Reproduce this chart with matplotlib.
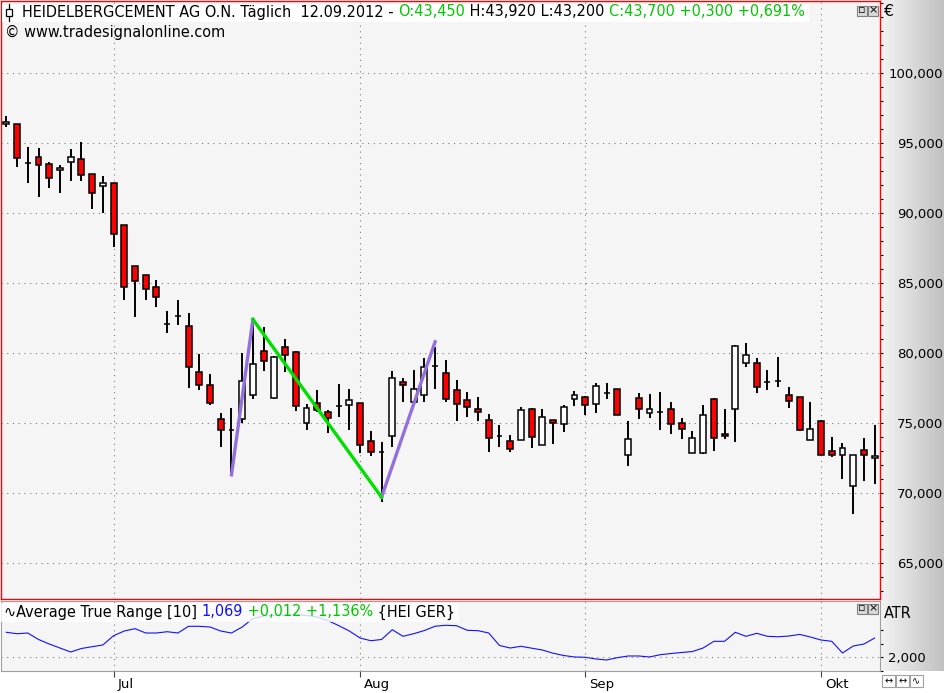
import numpy as np
import matplotlib
matplotlib.use("Agg")
import matplotlib.pyplot as plt
import matplotlib.transforms as mtransforms
from matplotlib.patches import Rectangle
from matplotlib.ticker import MultipleLocator, FuncFormatter
from matplotlib.colors import LinearSegmentedColormap

# daily candles (price axis units)
opens = [96.34, 96.34, 93.55, 93.98, 93.48, 93.05, 93.62, 93.84, 92.76, 91.91,
         92.12, 89.12, 86.19, 85.55, 84.69, 82.09, 82.66, 81.91, 78.62, 77.69,
         75.26, 74.48, 75.26, 76.98, 80.16, 76.76, 80.41, 80.05, 74.98, 76.41,
         75.76, 76.21, 76.26, 76.41, 73.69, 72.95, 74.05, 77.91, 76.48, 76.98,
         79.09, 78.55, 77.34, 76.62, 75.98, 75.19, 74.05, 73.69, 73.76, 75.98,
         73.41, 75.19, 74.91, 76.69, 76.84, 76.34, 77.12, 77.41, 72.69, 76.76,
         75.69, 75.76, 75.98, 74.98, 72.84, 72.84, 76.69, 74.19, 75.98, 79.26,
         79.26, 77.95, 77.98, 76.98, 76.84, 73.76, 75.12, 72.98, 72.69, 70.48,
         73.05, 72.48]
highs = [96.93, 96.34, 94.69, 94.62, 93.62, 93.41, 94.55, 95.05, 92.76, 92.62,
         92.12, 89.12, 86.19, 85.55, 85.19, 83.00, 83.76, 82.84, 79.91, 78.48,
         75.69, 76.05, 79.98, 82.36, 81.84, 79.80, 81.00, 80.12, 76.36, 77.36,
         75.90, 77.79, 77.43, 76.41, 74.43, 73.62, 78.71, 78.19, 78.79, 79.62,
         80.45, 79.48, 78.07, 77.21, 76.84, 75.64, 74.84, 74.12, 76.16, 76.05,
         75.98, 75.20, 76.29, 77.26, 76.90, 77.84, 77.84, 77.41, 75.12, 77.12,
         77.05, 77.19, 76.48, 75.34, 74.41, 76.26, 76.76, 75.98, 80.55, 80.69,
         79.62, 78.76, 79.69, 77.55, 76.84, 76.48, 75.19, 73.98, 73.55, 72.69,
         73.91, 74.84]
lows = [96.12, 93.31, 92.12, 91.16, 91.81, 91.45, 92.31, 92.31, 90.31, 90.02,
        87.55, 83.81, 82.59, 83.81, 83.31, 81.45, 82.02, 77.52, 77.38, 76.26,
        73.31, 71.41, 74.98, 76.74, 78.74, 76.70, 78.66, 75.88, 74.52, 75.80,
        74.31, 75.45, 74.52, 72.88, 72.66, 69.38, 73.31, 76.52, 76.48, 76.48,
        77.41, 76.48, 75.16, 75.43, 75.16, 72.95, 73.26, 72.95, 73.76, 73.19,
        73.40, 73.48, 74.38, 76.19, 75.55, 75.69, 76.74, 75.55, 71.95, 75.26,
        75.38, 74.48, 74.19, 73.84, 72.84, 72.76, 73.02, 73.84, 73.62, 79.02,
        77.12, 77.34, 77.55, 76.05, 74.41, 73.76, 72.69, 72.59, 70.98, 68.52,
        70.88, 70.66]
closes = [96.52, 93.91, 93.55, 93.41, 92.48, 93.19, 93.98, 92.69, 91.41, 92.12,
          88.48, 84.69, 85.12, 84.55, 83.98, 82.09, 82.66, 78.98, 77.69, 76.41,
          74.48, 74.48, 77.98, 79.19, 79.41, 79.69, 79.84, 76.21, 76.05, 75.91,
          75.34, 76.21, 76.62, 73.41, 72.91, 72.95, 78.19, 77.69, 77.41, 79.00,
          79.09, 76.69, 76.34, 76.12, 75.76, 73.91, 74.05, 73.12, 75.91, 74.02,
          75.41, 74.98, 76.12, 76.98, 76.26, 77.62, 77.12, 75.55, 73.84, 75.98,
          75.98, 75.76, 74.91, 74.55, 73.91, 75.55, 73.91, 74.05, 80.48, 79.84,
          77.55, 77.95, 77.98, 76.55, 74.48, 74.55, 72.69, 72.69, 73.19, 72.69,
          72.69, 72.62]

# Average True Range [10], in the panel's axis units
atr = [2.463, 2.437, 2.450, 2.330, 2.246, 2.172, 2.098, 2.163, 2.196, 2.228,
       2.400, 2.487, 2.530, 2.450, 2.450, 2.474, 2.450, 2.574, 2.574, 2.561,
       2.487, 2.450, 2.561, 2.719, 2.765, 2.778, 2.783, 2.787, 2.778, 2.746,
       2.681, 2.587, 2.487, 2.357, 2.307, 2.330, 2.511, 2.389, 2.437, 2.496,
       2.576, 2.593, 2.585, 2.500, 2.493, 2.450, 2.219, 2.172, 2.204, 2.169,
       2.135, 2.076, 2.033, 2.006, 2.000, 1.969, 1.950, 1.993, 2.024, 2.024,
       2.006, 2.048, 2.070, 2.089, 2.107, 2.172, 2.296, 2.296, 2.463, 2.389,
       2.444, 2.389, 2.380, 2.394, 2.424, 2.376, 2.320, 2.296, 2.080, 2.209,
       2.246, 2.357]

# zigzag swing points (candle index, price)
zz_idx = [21, 23, 35, 40]
zz_val = [71.3, 82.4, 69.7, 80.8]

month_pos = [10, 33, 54, 76]
month_labels = ["Jul", "Aug", "Sep", "Okt"]
price_ticks = [65, 70, 75, 80, 85, 90, 95, 100]
atr_ticks = [2.0]
atr_minor = [1.75, 2.25, 2.5]

W, H = 945, 693
plt.rcParams["font.family"] = ["DejaVu Sans"]
FS = 9.5      # scale labels
TFS = 10.45   # caption lines
GREEN = "#00c800"
BLUE = "#1010ff"
GRID = dict(color="#707070", linestyle=(0, (1, 4.5)), linewidth=0.75)
PIX = mtransforms.IdentityTransform()

fig = plt.figure(figsize=(W / 100, H / 100), dpi=100)
fig.patch.set_facecolor("white")

# grey gradient behind the right-hand scale
bg = fig.add_axes([880 / W, 22 / H, 65 / W, 671 / H], zorder=-1)
bg.imshow(np.linspace(0, 1, 256).reshape(1, -1), aspect="auto",
          cmap=LinearSegmentedColormap.from_list("g", ["#f4f4f4", "#c0c0c0"]))
bg.axis("off")

fmt = FuncFormatter(lambda v, p: f"{v:.3f}".replace(".", ","))

# ---- price panel
ax = fig.add_axes([1 / W, 94 / H, 879 / W, 598 / H])
ax.set_facecolor("#f5f5f5")
x = np.arange(len(opens))
o = np.array(opens); c = np.array(closes)
ax.vlines(x, lows, highs, color="black", linewidth=1.4, zorder=2)
up = c >= o
ax.bar(x, c - o, bottom=o, width=0.55,
       color=np.where(up, "white", "#ff0000"), edgecolor="black",
       linewidth=1.1, zorder=3)
ax.plot(zz_idx[0:2], zz_val[0:2], color="#9370db", linewidth=2.4, zorder=4)
ax.plot(zz_idx[2:4], zz_val[2:4], color="#9370db", linewidth=2.4, zorder=4)
ax.plot(zz_idx[1:3], zz_val[1:3], color="#00e000", linewidth=2.4, zorder=4)

ax.set_xlim(-0.5, 81.5)
ax.set_ylim(62.43, 105.14)
ax.set_xticks(month_pos)
ax.tick_params(axis="x", length=0, labelbottom=False)
ax.yaxis.tick_right()
ax.set_yticks(price_ticks)
ax.yaxis.set_major_formatter(fmt)
ax.yaxis.set_minor_locator(MultipleLocator(1))
ax.tick_params(axis="y", which="both", direction="out", length=2.2, width=0.8,
               color="black")
ax.tick_params(axis="y", which="major", pad=43.2, labelsize=FS)
for lbl in ax.get_yticklabels():
    lbl.set_horizontalalignment("right")
ax.grid(True, which="major", **GRID)
for s in ax.spines.values():
    s.set_color("red")
    s.set_linewidth(1.0)

# ---- ATR panel
ax2 = fig.add_axes([1 / W, 22 / H, 879 / W, 70 / H])
ax2.set_facecolor("#f5f5f5")
ax2.plot(x, atr, color=BLUE, linewidth=0.8, zorder=2)
ax2.set_xlim(-0.5, 81.5)
ax2.set_ylim(1.746, 3.043)
ax2.yaxis.tick_right()
ax2.set_yticks(atr_ticks)
ax2.set_yticks(atr_minor, minor=True)
ax2.yaxis.set_major_formatter(fmt)
ax2.tick_params(axis="y", which="both", direction="out", length=2.2, width=0.8)
ax2.tick_params(axis="y", which="major", pad=3.6, labelsize=FS)
ax2.set_xticks(month_pos)
ax2.set_xticklabels(month_labels)
ax2.tick_params(axis="x", direction="out", length=4.3, width=0.8, pad=1.0,
                labelsize=FS, color="#404040")
off = mtransforms.ScaledTranslation(4 / 100, 0, fig.dpi_scale_trans)
for lbl in ax2.get_xticklabels():
    lbl.set_horizontalalignment("left")
    lbl.set_transform(lbl.get_transform() + off)
ax2.grid(True, which="major", **GRID)
for s in ax2.spines.values():
    s.set_color("#a0a0a0")
    s.set_linewidth(0.8)

renderer = fig.canvas.get_renderer()


def chain(pieces, x0, y0, alpha):
    # coloured pieces set one after another on a white strip
    xs = x0
    top, bot = None, None
    for txt, col in pieces:
        t = fig.text(xs / W, 1 - y0 / H, txt, color=col, fontsize=TFS,
                     va="center", ha="left", zorder=5)
        bb = t.get_window_extent(renderer=renderer)
        xs = bb.x1
        top = bb.y1 if top is None else max(top, bb.y1)
        bot = bb.y0 if bot is None else min(bot, bb.y0)
    fig.add_artist(Rectangle((x0 - 20, bot - 2), xs - x0 + 24, top - bot + 3,
                             fc="white", ec="none", alpha=alpha, zorder=4,
                             transform=PIX))


# title line
chain([("HEIDELBERGCEMENT AG O.N. Täglich  12.09.2012 - ", "black"),
       ("O:43,450", GREEN), (" H:43,920 L:43,200 ", "black"),
       ("C:43,700 +0,300 +0,691%", GREEN)], 22, 12, 1.0)
# candle icon in front of the title
fig.add_artist(Rectangle((6, H - 16), 6, 7, fc="white", ec="black", lw=0.9,
                         transform=PIX, zorder=6))
fig.add_artist(plt.Line2D([9, 9], [H - 21, H - 4], color="black", lw=0.9,
                          transform=PIX, zorder=5.5))
fig.text(5 / W, 1 - 32 / H, "© www.tradesignalonline.com", fontsize=TFS,
         va="center", ha="left")

# ATR caption
chain([("∿Average True Range [10] ", "black"), ("1,069", BLUE),
       (" +0,012 +1,136%", GREEN), (" {HEI GER}", "black")], 4, 612, 0.8)

fig.text(884 / W, 1 - 12 / H, "€", fontsize=TFS + 1, va="center", ha="left")
fig.text(884 / W, 1 - 613 / H, "ATR", fontsize=TFS, va="center", ha="left")


# little window buttons
def buttons(x0, y0):
    for k, g in enumerate(["▫", "×"]):
        fig.add_artist(Rectangle((x0 + 11 * k, H - y0 - 11), 10, 10,
                                 fc="#d8d8d8", ec="#808080", lw=0.8,
                                 transform=PIX, zorder=5))
        fig.text((x0 + 11 * k + 5) / W, 1 - (y0 + 5.5) / H, g, fontsize=8,
                 ha="center", va="center", zorder=6)


buttons(857, 5)
buttons(857, 603)
for k, g in enumerate(["↔", "↔", "∿"]):
    fig.add_artist(Rectangle((882 + 14 * k, H - 687), 13, 12, fc="white",
                             ec="#a0a0a0", lw=0.8, transform=PIX, zorder=5))
    fig.text((888.5 + 14 * k) / W, 1 - 681 / H, g, fontsize=7, ha="center",
             va="center", zorder=6)

fig.savefig("out.png", dpi=100)
